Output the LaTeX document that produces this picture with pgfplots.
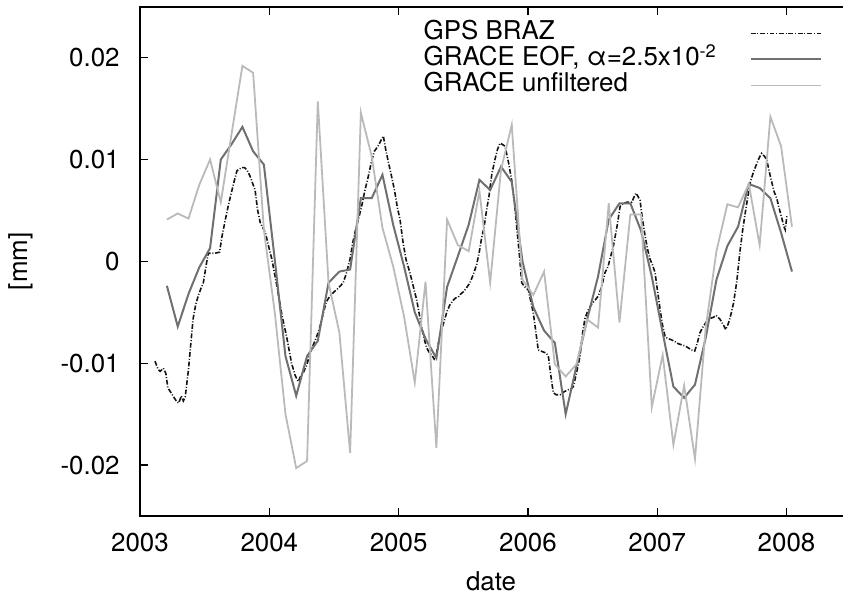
\documentclass[border=0pt]{standalone}
\usepackage{pgfplots}
\pgfplotsset{compat=1.18}
\usepackage{pgfplotstable}
\usepackage{fontspec}
\setmainfont{TeX Gyre Heros}
\definecolor{eofgray}{RGB}{112,112,112}
\definecolor{rawgray}{RGB}{186,186,186}
\definecolor{gpsblack}{RGB}{20,20,20}

\pgfplotstableread{
t eof raw
2003.208 -0.0024 0.0041
2003.292 -0.0064 0.0047
2003.375 -0.0032 0.0042
2003.458 -0.0006 0.0075
2003.542 0.0013 0.0100
2003.625 0.0100 0.0058
2003.708 0.0115 0.0125
2003.792 0.0132 0.0192
2003.875 0.0108 0.0185
2003.958 0.0095 0.0031
2004.042 0.0002 -0.0050
2004.125 -0.0093 -0.0150
2004.208 -0.0132 -0.0203
2004.292 -0.0093 -0.0196
2004.375 -0.0078 0.0157
2004.458 -0.0021 -0.0021
2004.542 -0.0010 -0.0070
2004.625 -0.0008 -0.0188
2004.708 0.0062 0.0146
2004.792 0.0062 0.0103
2004.875 0.0085 0.0033
2004.958 0.0036 -0.0005
2005.042 -0.0005 -0.0054
2005.125 -0.0050 -0.0119
2005.208 -0.0076 -0.0020
2005.292 -0.0095 -0.0183
2005.375 -0.0025 0.0041
2005.458 0.0005 0.0016
2005.542 0.0036 0.0010
2005.625 0.0080 0.0069
2005.708 0.0070 -0.0021
2005.792 0.0093 0.0090
2005.875 0.0078 0.0134
2005.958 0.0000 -0.0018
2006.042 -0.0045 -0.0033
2006.125 -0.0068 -0.0010
2006.208 -0.0080 -0.0101
2006.292 -0.0150 -0.0113
2006.375 -0.0103 -0.0101
2006.458 -0.0057 -0.0057
2006.542 -0.0015 -0.0065
2006.625 0.0041 0.0057
2006.708 0.0057 -0.0060
2006.792 0.0057 0.0046
2006.875 0.0030 0.0046
2006.958 -0.0015 -0.0143
2007.042 -0.0070 -0.0092
2007.125 -0.0123 -0.0180
2007.208 -0.0134 -0.0122
2007.292 -0.0121 -0.0194
2007.375 -0.0075 -0.0065
2007.458 -0.0018 0.0010
2007.542 0.0015 0.0056
2007.625 0.0034 0.0053
2007.708 0.0076 0.0076
2007.792 0.0072 0.0016
2007.875 0.0062 0.0142
2007.958 0.0028 0.0113
2008.042 -0.0010 0.0034
}\gracetable

\pgfplotstableread{
t gps
2003.116 -0.0098
2003.140 -0.0106
2003.155 -0.0108
2003.180 -0.0105
2003.200 -0.0110
2003.215 -0.0124
2003.240 -0.0129
2003.260 -0.0133
2003.285 -0.0138
2003.300 -0.0139
2003.320 -0.0132
2003.335 -0.0137
2003.350 -0.0133
2003.375 -0.0106
2003.395 -0.0078
2003.410 -0.0057
2003.430 -0.0043
2003.450 -0.0034
2003.470 -0.0027
2003.490 -0.0021
2003.510 -0.0005
2003.528 0.0008
2003.580 0.0008
2003.615 0.0009
2003.635 0.0025
2003.660 0.0041
2003.680 0.0053
2003.700 0.0064
2003.725 0.0077
2003.750 0.0089
2003.785 0.0092
2003.810 0.0092
2003.830 0.0089
2003.850 0.0084
2003.870 0.0077
2003.890 0.0070
2003.910 0.0050
2003.930 0.0038
2003.950 0.0033
2003.970 0.0028
2004.000 0.0012
2004.020 0.0002
2004.060 -0.0025
2004.095 -0.0051
2004.134 -0.0074
2004.172 -0.0100
2004.200 -0.0112
2004.224 -0.0118
2004.245 -0.0112
2004.263 -0.0109
2004.290 -0.0102
2004.314 -0.0090
2004.340 -0.0082
2004.366 -0.0074
2004.390 -0.0065
2004.417 -0.0051
2004.440 -0.0040
2004.469 -0.0034
2004.500 -0.0030
2004.520 -0.0028
2004.550 -0.0024
2004.572 -0.0021
2004.600 -0.0010
2004.624 0.0002
2004.645 0.0018
2004.662 0.0028
2004.690 0.0042
2004.714 0.0054
2004.740 0.0070
2004.765 0.0083
2004.790 0.0098
2004.812 0.0108
2004.840 0.0113
2004.865 0.0119
2004.882 0.0123
2004.900 0.0110
2004.920 0.0098
2004.934 0.0090
2004.955 0.0078
2004.972 0.0067
2004.990 0.0053
2005.011 0.0041
2005.035 0.0018
2005.057 0.0002
2005.080 -0.0008
2005.101 -0.0018
2005.120 -0.0028
2005.140 -0.0038
2005.160 -0.0052
2005.178 -0.0064
2005.200 -0.0077
2005.217 -0.0085
2005.240 -0.0090
2005.256 -0.0092
2005.275 -0.0096
2005.290 -0.0093
2005.305 -0.0082
2005.320 -0.0073
2005.345 -0.0062
2005.372 -0.0050
2005.395 -0.0043
2005.423 -0.0038
2005.440 -0.0036
2005.462 -0.0035
2005.480 -0.0032
2005.500 -0.0030
2005.525 -0.0026
2005.552 -0.0021
2005.580 -0.0012
2005.604 -0.0003
2005.625 0.0010
2005.642 0.0023
2005.660 0.0033
2005.681 0.0051
2005.700 0.0065
2005.720 0.0085
2005.745 0.0100
2005.765 0.0110
2005.784 0.0116
2005.800 0.0115
2005.823 0.0113
2005.850 0.0097
2005.874 0.0080
2005.895 0.0058
2005.913 0.0034
2005.935 0.0005
2005.952 -0.0021
2005.975 -0.0025
2006.003 -0.0028
2006.020 -0.0038
2006.042 -0.0051
2006.060 -0.0068
2006.080 -0.0087
2006.100 -0.0088
2006.119 -0.0089
2006.140 -0.0090
2006.158 -0.0093
2006.175 -0.0110
2006.196 -0.0129
2006.220 -0.0131
2006.248 -0.0131
2006.280 -0.0128
2006.312 -0.0126
2006.335 -0.0125
2006.351 -0.0123
2006.375 -0.0110
2006.403 -0.0093
2006.420 -0.0073
2006.441 -0.0056
2006.465 -0.0048
2006.493 -0.0042
2006.520 -0.0038
2006.544 -0.0034
2006.570 -0.0025
2006.596 -0.0011
2006.620 -0.0005
2006.640 0.0005
2006.661 0.0015
2006.690 0.0035
2006.713 0.0054
2006.740 0.0057
2006.764 0.0058
2006.785 0.0058
2006.803 0.0058
2006.820 0.0063
2006.836 0.0067
2006.850 0.0064
2006.867 0.0060
2006.885 0.0042
2006.906 0.0025
2006.925 0.0012
2006.945 0.0002
2006.965 -0.0004
2006.983 -0.0011
2007.000 -0.0027
2007.022 -0.0047
2007.040 -0.0062
2007.061 -0.0074
2007.086 -0.0076
2007.110 -0.0077
2007.140 -0.0079
2007.165 -0.0081
2007.190 -0.0082
2007.215 -0.0083
2007.241 -0.0085
2007.265 -0.0087
2007.290 -0.0088
2007.310 -0.0080
2007.331 -0.0070
2007.355 -0.0064
2007.383 -0.0059
2007.410 -0.0056
2007.434 -0.0055
2007.455 -0.0053
2007.486 -0.0057
2007.510 -0.0062
2007.530 -0.0067
2007.550 -0.0061
2007.570 -0.0052
2007.590 -0.0041
2007.615 -0.0020
2007.640 0.0010
2007.660 0.0030
2007.680 0.0047
2007.700 0.0063
2007.720 0.0078
2007.745 0.0088
2007.770 0.0096
2007.790 0.0102
2007.808 0.0106
2007.830 0.0103
2007.846 0.0100
2007.865 0.0089
2007.885 0.0078
2007.905 0.0068
2007.924 0.0062
2007.945 0.0051
2007.962 0.0043
2007.980 0.0034
2007.990 0.0031
2008.003 0.0045
}\gpstable

\begin{document}
\fontsize{13}{15.5}\selectfont
\begin{tikzpicture}
\begin{axis}[
  scale only axis,
  width=355.6bp, height=254.65bp,
  xmin=2003, xmax=2008.5,
  ymin=-0.025, ymax=0.025,
  xtick={2003,2004,2005,2006,2007,2008},
  xticklabels={2003,2004,2005,2006,2007,2008},
  ytick={-0.02,-0.01,0,0.01,0.02},
  yticklabels={-0.02,-0.01,0,0.01,0.02},
  ytick pos=left,
  tick align=inside,
  major tick length=4bp,
  axis line style={line width=0.8bp, black},
  every tick/.style={line width=0.7bp, black},
  xticklabel style={yshift=-4.2bp},
  yticklabel style={xshift=-5.7bp},
  xlabel={date},
  ylabel={[mm]},
  every axis x label/.style={at={(axis description cs:0.4936,-0.1453)}, anchor=base},
  every axis y label/.style={at={(axis description cs:-0.1674,0.5)}, rotate=90, anchor=center},
  legend plot pos=right,
  legend cell align=left,
  legend image code/.code={\draw[#1] (0bp,0bp) -- (35bp,0bp);},
  legend style={draw=none, fill=none, at={(1,1)}, anchor=north east,
    xshift=-11.5bp, yshift=-5.0bp, column sep=16.5bp, row sep=0.6bp,
    nodes={inner sep=0pt, text height=9.3bp, text depth=3.1bp}},
]
\addplot[gpsblack, line width=0.8bp, dash pattern=on 2.4bp off 0.9bp on 0.5bp off 0.9bp] table[x=t, y=gps] {\gpstable};
\addlegendentry{GPS BRAZ}
\addplot[eofgray, line width=1bp] table[x=t, y=eof] {\gracetable};
\addlegendentry{GRACE EOF, α=2.5x10\textsuperscript{-2}}
\addplot[rawgray, line width=0.9bp] table[x=t, y=raw] {\gracetable};
\addlegendentry{GRACE unfiltered}
\end{axis}
\pgfresetboundingbox
\path[use as bounding box] (current axis.south west) ++(-70bp,-39bp) rectangle ++(421.5bp,297bp);
\end{tikzpicture}
\end{document}
